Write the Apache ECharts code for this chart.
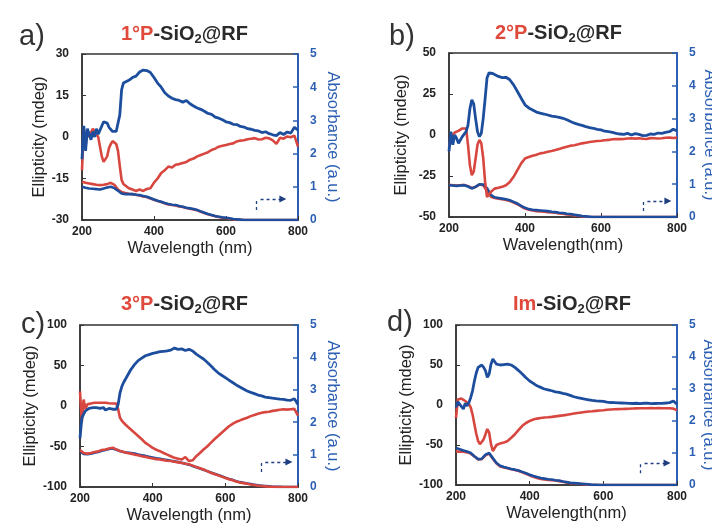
<!DOCTYPE html>
<html>
<head>
<meta charset="utf-8">
<script src="https://cdn.jsdelivr.net/npm/echarts@6/dist/echarts.min.js"></script>
<style>html,body{margin:0;padding:0;background:#fff}#c{width:712px;height:528px}</style>
</head>
<body>
<div id="c"></div>
<script>
// ---------- DATA ----------
// wavelength grid for CD spectra (nm)
const wlCD = [200,205,210,215,220,225,230,235,240,245,250,255,260,265,270,275,280,285,290,295,300,305,310,315,320,
  330,340,350,360,370,380,390,400,410,420,430,440,450,460,470,480,490,500,510,520,530,540,550,560,570,580,590,600,
  610,620,630,640,650,660,670,680,690,700,710,720,730,740,750,760,770,780,790,800];
// wavelength grid for absorbance spectra (nm)
const wlAbs = [200,210,220,230,240,250,260,270,280,290,300,310,320,330,340,350,360,370,380,390,400,410,420,430,440,
  450,460,470,480,490,500,510,520,530,540,550,560,570,580,590,600,610,620,630,640,650,660,670,680,690,700,710,720,
  730,740,750,760,770,780,790,800];

// Panel a: 1°P-SiO2@RF
const cdBlueA = [-8,4,-5,3,1,-1,2,0,3,1,2.5,4,5.5,6,5,3.5,3,2,1.5,2,2.5,8,17,19.5,20,
  20.5,21.5,22,23.5,24.2,24,23.3,21.5,19.5,18,16,14.8,14,13.5,13.2,12.6,13.2,12,11.2,10.5,
  10,9.3,8.5,8.2,7.2,6.8,6.2,5.5,5.2,4.6,4.5,3.8,3.6,3,2.8,2.4,2.2,1.6,1.9,1.2,0.8,0.5,1.6,0.9,1.8,1.4,3.5,2.5];
const cdRedA = [-12,3,-3,2,0,1.5,3,2,2.5,0,-3.5,-7,-9,-8.5,-7,-4,-2.5,-1.5,-1.5,-2.5,-5,-10.5,-15.5,-17,-17.5,
  -18.5,-19,-19.5,-19,-19.5,-18.8,-18.5,-16.5,-15,-13,-12,-10.7,-11,-10,-9.8,-9.4,-9,-8.2,-7.8,-7,
  -6.5,-6,-5.5,-4.7,-4.2,-3.5,-3.2,-2.9,-2.5,-2.3,-1.6,-1.3,-1.2,-0.8,-0.6,-0.4,-0.9,-0.8,-0.3,-0.5,
  -1.2,-2.5,-0.3,-0.6,0.2,-0.1,0.5,-3.5];
const absBlueA = [1.0,0.97,0.95,0.94,0.93,0.92,0.95,0.98,1.0,0.96,0.88,0.8,0.78,0.78,0.78,0.76,0.75,0.72,0.7,0.66,
  0.62,0.58,0.55,0.51,0.48,0.46,0.45,0.42,0.4,0.37,0.35,0.33,0.3,0.26,0.22,0.18,0.15,0.12,0.1,0.08,
  0.07,0.05,0.03,0.02,0.01,0,0,0,0,0,0,0,0,0,0,0,0,0,0,0,0];
const absRedA = [1.15,1.12,1.1,1.08,1.06,1.05,1.06,1.08,1.12,1.06,0.92,0.84,0.81,0.79,0.78,0.76,0.74,0.71,0.69,0.65,
  0.61,0.57,0.54,0.5,0.47,0.45,0.44,0.41,0.39,0.36,0.34,0.32,0.29,0.25,0.21,0.17,0.14,0.11,0.09,0.07,
  0.06,0.04,0.02,0.01,0,0,0,0,0,0,0,0,0,0,0,0,0,0,0,0,0];

// Panel b: 2°P-SiO2@RF
const cdBlueB = [-10,2,-6,0,-2,-5,-4,-1,-1,2,6,16,21.4,19,10,2,-1,1,10,22,34.7,37.8,38.4,37.5,36.7,
  35.7,35,35.2,33.7,30.6,26.5,22.4,18.4,16.5,15.3,14,13.3,12.8,12.2,11.5,11.2,10.8,10.2,9.3,8.2,
  7.2,6.5,5.9,5.1,4.5,4.1,3.4,3.1,2.3,2,1.6,1,0.6,0.4,1,0,0.8,0.4,-0.4,-0.2,0.6,0.4,1.2,1,1.6,2,3.5,2.5];
const cdRedB = [-8,-2,0,1.5,2,2.5,3,4,5,4,-6,-18.4,-24.5,-22.4,-14.3,-6,-3,-5,-14,-28.6,-37.8,-36.7,-34.7,-33.5,-32.7,
  -32.2,-31.6,-30.6,-28.6,-25.5,-21.4,-17.3,-14.3,-13.4,-12.7,-12,-11.2,-10.8,-10.2,-9.8,-9.2,-8.5,-7.8,-7.1,-6.5,
  -6.2,-5.7,-5.1,-4.7,-4.3,-4,-3.7,-3.5,-3.2,-3,-2.6,-2.4,-2.5,-2.4,-2.1,-2,-2.2,-2,-2.3,-2.4,
  -1.9,-2,-2.1,-2,-1.7,-1.6,-1.8,-1.6];
const absBlueB = [0.97,0.96,0.95,0.96,0.97,0.93,0.87,0.92,1.0,0.99,0.88,0.68,0.6,0.58,0.56,0.54,0.51,0.46,0.41,0.34,
  0.28,0.24,0.22,0.21,0.2,0.19,0.18,0.16,0.15,0.13,0.12,0.1,0.09,0.07,0.05,0.03,0.02,0.01,0,0,
  0,0,0,0,0,0,0,0,0,0,0,0,0,0,0,0,0,0,0,0,0];
const absRedB = [0.98,0.97,0.96,0.97,0.98,0.94,0.88,0.92,0.99,0.97,0.8,0.62,0.58,0.56,0.54,0.52,0.49,0.44,0.39,0.32,
  0.26,0.22,0.2,0.18,0.17,0.16,0.15,0.14,0.13,0.11,0.1,0.08,0.07,0.05,0.04,0.02,0.01,0,0,0,
  0,0,0,0,0,0,0,0,0,0,0,0,0,0,0,0,0,0,0,0,0];

// Panel c: 3°P-SiO2@RF
const cdBlueC = [-40,-15,-10,-6,-4,-3,-3,-2,-3,-2,-4,-3,-3,-2,-5,-4,-3,-2,-4,-3,-4,2,16,24,29,
  37,45,51,56,59,62,63.5,65,66,67,67.5,68,69,71.5,70,70.5,68.5,70,68,64,
  61,58,54,49.6,45,41,38,35,32,29,26,23.5,21,18.6,16.8,15.3,13.5,12.4,11,10.3,9.6,9,8.5,8.3,7.2,7,9,2];
const cdRedC = [18,-20,8,-4,2,3,3,2.5,4,3.5,4,4.5,4,3.5,4,3,3.3,3.8,3,3.5,3,-4,-14.5,-18,-20.7,
  -25,-29,-33,-37,-41,-45.5,-48.5,-51.7,-54,-55.8,-58,-60,-62,-64,-65,-66,-63,-68,-67,-62,
  -58,-53.7,-50,-45.5,-41,-37,-33,-29,-25,-22,-19.5,-17.8,-16,-14.5,-12.5,-11,-9.5,-8.3,-7.6,-7,
  -6,-5.4,-4.6,-4,-4.5,-4,-3.5,-12];
const absBlueC = [1.1,1.02,1.01,1.03,1.06,1.08,1.12,1.14,1.17,1.19,1.15,1.11,1.08,1.06,1.05,1.03,1.0,0.98,0.96,0.93,
  0.91,0.89,0.87,0.85,0.83,0.81,0.79,0.77,0.75,0.72,0.69,0.65,0.61,0.57,0.53,0.49,0.45,0.41,0.37,0.33,
  0.29,0.25,0.22,0.18,0.15,0.13,0.11,0.09,0.07,0.05,0.04,0.03,0.02,0.01,0.01,0.005,0,0,0,0,0];
const absRedC = [1.14,1.05,1.03,1.05,1.08,1.1,1.14,1.16,1.19,1.21,1.16,1.11,1.08,1.05,1.03,1.0,0.98,0.95,0.93,0.9,
  0.88,0.86,0.85,0.83,0.81,0.8,0.78,0.76,0.74,0.72,0.7,0.66,0.62,0.58,0.54,0.49,0.44,0.4,0.36,0.32,
  0.28,0.24,0.21,0.17,0.14,0.12,0.1,0.08,0.06,0.04,0.03,0.02,0.01,0.005,0,0,0,0,0,0,0];

// Panel d: Im-SiO2@RF
const cdBlueD = [-3,4,5,-2,-5,2,-1,3,9.4,18,30,40,47,49.5,50,47,43,34.5,38.7,51,57.5,55,51,50.5,50,
  50.5,51,50,47,43,38.7,34,30,27,24,22,20,19,17.8,16.5,15.7,14.5,13.6,12,10.3,
  9.2,8.2,7.2,6.5,5.8,5.2,4.8,4.4,3.6,3.1,3,2.7,2.5,2.3,2.1,1.9,2.2,1.8,2.2,2.4,1.8,1.9,2,2.1,2.5,3,5,1];
const cdRedD = [-16,7,5,8,7,5,3,1,-3,-12,-24,-36,-45,-49,-48,-43,-36.6,-30,-34.5,-49,-57.5,-55,-50,-49,-48,
  -47,-45,-41,-36.6,-31,-26,-22.5,-19.9,-18.2,-17,-16.2,-15.7,-15.3,-14.8,-14.2,-13.6,-13,-12.3,-11.5,-10.7,
  -10,-9.4,-8.8,-8.2,-7.8,-7.3,-6.9,-6.5,-6,-5.6,-5.4,-5.2,-5,-4.8,-4.6,-4.4,-4.2,-4,-4,-4.1,
  -3.9,-4,-3.9,-4,-4,-4.1,-4.5,-6.5];
const absBlueD = [1.16,1.12,1.08,1.05,1.0,0.9,0.81,0.82,0.95,1.0,0.84,0.69,0.6,0.56,0.53,0.5,0.48,0.45,0.41,0.37,
  0.32,0.28,0.25,0.22,0.2,0.18,0.17,0.15,0.14,0.11,0.09,0.07,0.06,0.05,0.04,0.03,0.02,0.01,0.01,0,
  0,0,0,0,0,0,0,0,0,0,0,0,0,0,0,0,0,0,0,0,0];
const absRedD = [1.05,1.04,1.04,1.02,0.98,0.89,0.8,0.81,0.93,0.98,0.82,0.67,0.58,0.55,0.52,0.49,0.47,0.44,0.4,0.35,
  0.3,0.26,0.22,0.19,0.17,0.16,0.15,0.14,0.12,0.1,0.08,0.06,0.05,0.04,0.03,0.02,0.01,0,0,0,
  0,0,0,0,0,0,0,0,0,0,0,0,0,0,0,0,0,0,0,0,0];

const xTicks = [200, 400, 600, 800];
const absTicks = [0, 1, 2, 3, 4, 5];
// "axis switch" dashed arrow annotation: [x0, yLow, yHigh, x1, x2] in data units of abs axis
const arrowA = [683, 0.3, 0.63, 696, 758];
const arrowB = [710, 0.18, 0.49, 722, 776];
const arrowC = [698, 0.46, 0.77, 710, 775];
const arrowD = [700, 0.37, 0.69, 712, 773];

// ---------- STYLE / LAYOUT ----------
const FONT = '"Liberation Sans", Arial, sans-serif';
const RED = '#d8473f', BLUE = '#1d4e9e', AXBLUE = '#2c5fb3', DARK = '#2a2a2a', TRED = '#e04a3c';

const panels = [
  {lab:'a)', labPos:[14,17], lab1:'1°P', tPos:[116,17], grid:{left:82, top:54, width:216, height:166},
   ylim:[-30,30,15], yGap:34, rGap:26, xName:'Wavelength (nm)',
   cdR:cdRedA, cdB:cdBlueA, abR:absRedA, abB:absBlueA, arrow:arrowA, absRedTop:false},
  {lab:'b)', labPos:[384,17], lab1:'2°P', tPos:[490,16], grid:{left:449, top:53, width:228, height:164},
   ylim:[-50,50,25], yGap:39, rGap:24, xName:'Wavelength(nm)',
   cdR:cdRedB, cdB:cdBlueB, abR:absRedB, abB:absBlueB, arrow:arrowB, absRedTop:false},
  {lab:'c)', labPos:[16,305], lab1:'3°P', tPos:[116,287], grid:{left:80, top:325, width:218, height:162},
   ylim:[-100,100,50], yGap:34, rGap:26, xName:'Wavelength (nm)',
   cdR:cdRedC, cdB:cdBlueC, abR:absRedC, abB:absBlueC, arrow:arrowC, absRedTop:true},
  {lab:'d)', labPos:[382,303], lab1:'Im', tPos:[508,287], grid:{left:456, top:325, width:221, height:160},
   ylim:[-100,100,50], yGap:35, rGap:23, xName:'Wavelength(nm)',
   cdR:cdRedD, cdB:cdBlueD, abR:absRedD, abB:absBlueD, arrow:arrowD, absRedTop:false}
];

const pairs = (xs, ys) => xs.map((x, i) => [x, ys[i]]);

const titles = [], grids = [], xAxes = [], yAxes = [], series = [];
panels.forEach((p, i) => {
  titles.push({text: p.lab, left: p.labPos[0], top: p.labPos[1],
    textStyle: {fontFamily: FONT, fontSize: 29, fontWeight: 'normal', color: '#333'}});
  titles.push({text: '{r|' + p.lab1 + '}{k|-SiO}{s|2}{k|@RF}', left: p.tPos[0], top: p.tPos[1],
    textStyle: {rich: {
      r: {fontFamily: FONT, fontSize: 20, fontWeight: 'bold', color: TRED, lineHeight: 24},
      k: {fontFamily: FONT, fontSize: 20, fontWeight: 'bold', color: DARK, lineHeight: 24},
      s: {fontFamily: FONT, fontSize: 13, fontWeight: 'bold', color: DARK, lineHeight: 14, verticalAlign: 'bottom'}
    }}});
  grids.push(Object.assign({show: true, borderColor: '#333', borderWidth: 1.5, backgroundColor: 'transparent',
    containLabel: false, outerBoundsMode: 'none'}, p.grid));
  xAxes.push({gridIndex: i, type: 'value', min: xTicks[0], max: xTicks[xTicks.length - 1], interval: xTicks[1] - xTicks[0],
    axisLine: {show: true, onZero: false, lineStyle: {color: '#333', width: 1.5}},
    axisTick: {show: true, inside: true, length: 4, lineStyle: {color: '#333'}},
    axisLabel: {margin: 6, fontFamily: FONT, fontSize: 12, fontWeight: 'bold', color: '#222'},
    splitLine: {show: false},
    name: p.xName, nameLocation: 'middle', nameGap: 20,
    nameTextStyle: {fontFamily: FONT, fontSize: 16.5, color: '#222'}});
  yAxes.push({gridIndex: i, type: 'value', position: 'left', min: p.ylim[0], max: p.ylim[1], interval: p.ylim[2],
    axisLine: {show: true, onZero: false, lineStyle: {color: '#333', width: 1.5}},
    axisTick: {show: true, inside: true, length: 4, lineStyle: {color: '#333'}},
    axisLabel: {margin: 13, fontFamily: FONT, fontSize: 12, fontWeight: 'bold', color: '#222'},
    splitLine: {show: false},
    name: 'Ellipticity (mdeg)', nameLocation: 'middle', nameRotate: 90, nameGap: p.yGap,
    nameTextStyle: {fontFamily: FONT, fontSize: 16.5, color: '#222'}});
  yAxes.push({gridIndex: i, type: 'value', position: 'right', min: absTicks[0], max: absTicks[absTicks.length - 1],
    interval: absTicks[1] - absTicks[0],
    axisLine: {show: true, onZero: false, lineStyle: {color: AXBLUE, width: 2}},
    axisTick: {show: true, inside: true, length: 5, lineStyle: {color: AXBLUE, width: 1.5}},
    axisLabel: {margin: 12, fontFamily: FONT, fontSize: 12, fontWeight: 'bold', color: AXBLUE},
    splitLine: {show: false},
    name: 'Absorbance (a.u.)', nameLocation: 'middle', nameRotate: -90, nameGap: p.rGap,
    nameTextStyle: {fontFamily: FONT, fontSize: 16.5, color: AXBLUE}});
  const base = {type: 'line', xAxisIndex: i, showSymbol: false, symbol: 'none', animation: false, silent: true};
  const a = p.arrow;
  const absRed = Object.assign({}, base, {name: 'absRed', yAxisIndex: 2 * i + 1, data: pairs(wlAbs, p.abR),
    lineStyle: {color: RED, width: 2.6}, itemStyle: {color: RED}});
  const absBlue = Object.assign({}, base, {name: 'absBlue', yAxisIndex: 2 * i + 1, data: pairs(wlAbs, p.abB),
    lineStyle: {color: BLUE, width: 2.6}, itemStyle: {color: BLUE},
    markLine: {silent: true, symbol: ['none', 'none'], symbolSize: 7, label: {show: false},
      lineStyle: {type: [3, 3], color: '#1f3f80', width: 1.3},
      data: [
        [{coord: [a[0], a[1]]}, {coord: [a[0], a[2]]}],
        [{coord: [a[3], a[2]]}, {coord: [a[4], a[2]], symbol: 'triangle', symbolRotate: -90, symbolSize: 7}]
      ]}});
  if (p.absRedTop) { series.push(absBlue, absRed); } else { series.push(absRed, absBlue); }
  series.push(Object.assign({}, base, {name: 'cdRed', yAxisIndex: 2 * i, data: pairs(wlCD, p.cdR),
    lineStyle: {color: RED, width: 2.6}, itemStyle: {color: RED}}));
  series.push(Object.assign({}, base, {name: 'cdBlue', yAxisIndex: 2 * i, data: pairs(wlCD, p.cdB),
    lineStyle: {color: BLUE, width: 2.8}, itemStyle: {color: BLUE}}));
});

const chart = echarts.init(document.getElementById('c'), null, {renderer: 'canvas'});
chart.setOption({
  backgroundColor: '#ffffff',
  animation: false,
  title: titles,
  grid: grids,
  xAxis: xAxes,
  yAxis: yAxes,
  series: series
});
</script>
</body>
</html>
